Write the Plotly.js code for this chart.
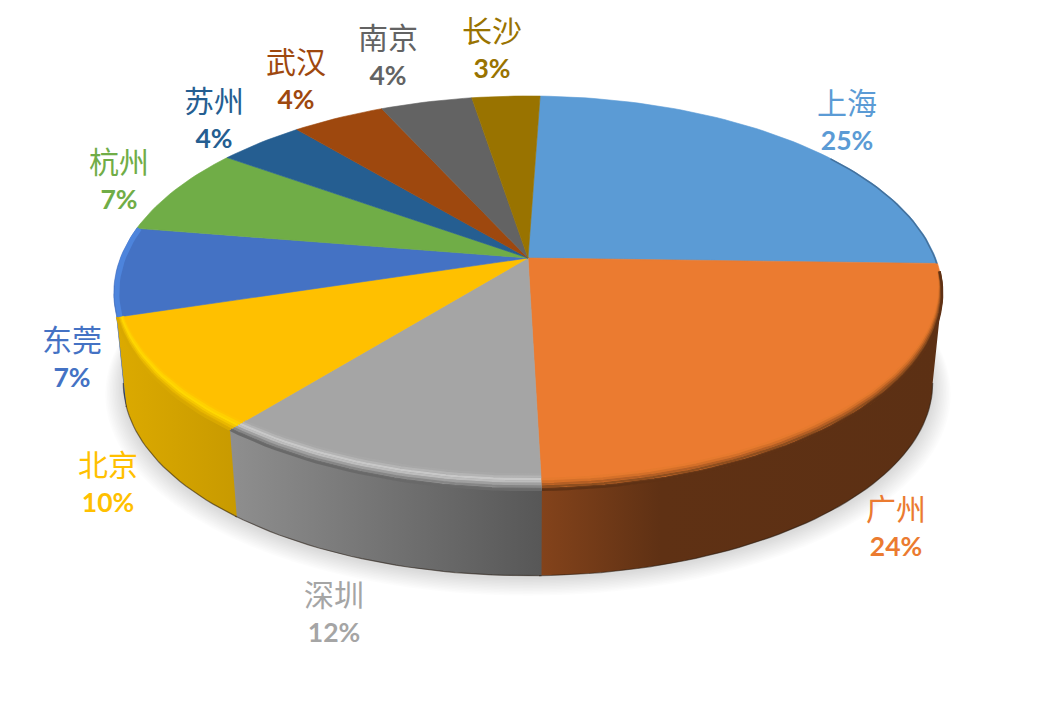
<!DOCTYPE html>
<html><head><meta charset="utf-8">
<script src="https://cdn.plot.ly/plotly-3.0.1.min.js"></script>
<style>html,body{margin:0;padding:0;background:#fff}#c{width:1056px;height:704px}</style>
</head><body><div id="c"></div>
<script>
// ---- data ----
const cities = ['上海','广州','深圳','北京','东莞','杭州','苏州','武汉','南京','长沙'];
const shares = [24.9,24.1,11.3,9.4,7.3,7.3,4.0,4.3,4.25,3.15];
const percentLabels = ['25%','24%','12%','10%','7%','7%','4%','4%','4%','3%'];
// ---- styles ----
const topColors = ['#5B9BD5','#EB7B30','#A5A5A5','#FFC000','#4472C4','#70AD47','#255E91','#9E480E','#636363','#997300'];
const wallScales = {
  1:[[0,'#84431b'],[0.3,'#5f3114'],[1,'#5c3014']],
  2:[[0,'#8f8f8f'],[1,'#575757']],
  3:[[0,'#dcaa00'],[1,'#c89a00']],
  4:[[0,'#3a62a8'],[1,'#2f5597']]
};
const frontBevels = {
  1:[[9,'#e67a2e'],[7,'#d47029'],[5,'#b55f24'],[3,'#8f4e1e'],[1,'#6c3a18'],[0,'#5f3114']],
  2:[[13,'#a8a8a8'],[11,'#b4b4b4'],[9,'#c8c8c8'],[7,'#bdbdbd'],[5,'#a0a0a0'],[3,'#868686'],[1,'#6e6e6e'],[0,'#696969']],
  3:[[11,'#ffc400'],[9,'#ffd000'],[7,'#ffd800'],[5,'#f6c800'],[3,'#e8b800'],[1,'#dcaa00'],[0,'#d8a800']]
};
// ---- label anchors (layout only) ----
const nameX = [847,896,334,108,72,119,214,296,388,492];
const nameY = [103,509,595,465,340,162,101,62,38,31];
const pctGap = 37, labelNudge = 3;
// ---- geometry of the tilted disc ----
const cx = 528, cy = 258, ax = 407.6, ay = 190.8, persp = -0.1777;
const startDeg = 2, depthCy = 349, depthScale = 0.977;
const tangentR = 100.2, tangentL = 259.8;
function project(deg, r, centreY, scale) {
  const t = deg * Math.PI / 180, X = Math.sin(t) * r, Y = -Math.cos(t) * r, d = 1 + persp * Y;
  return [cx + scale * ax * X / d, centreY + scale * ay * Y / d];
}
function arc(a0, a1, r, centreY, scale) {
  const n = Math.max(2, Math.ceil(Math.abs(a1 - a0) / 1.5)), xs = [], ys = [];
  for (let i = 0; i <= n; i++) {
    const a = a0 + (a1 - a0) * i / n;
    const p = project(a, typeof r === 'function' ? r(a) : r, centreY, scale);
    xs.push(p[0]); ys.push(p[1]);
  }
  return [xs, ys];
}
const total = shares.reduce((a, b) => a + b, 0);
let acc = startDeg;
const bounds = shares.map(v => { const s = acc; acc += v / total * 360; return [s, acc]; });
const traces = [];
const base = {type:'scatter', hoverinfo:'skip', showlegend:false, xaxis:'x', yaxis:'y'};
// soft shadow under the disc
for (let i = 12; i >= 1; i--) {
  const [x, y] = arc(0, 360, 1 + 0.0036 * i, depthCy + 2 + 0.5 * i, depthScale);
  traces.push({...base, x, y, mode:'none', fill:'toself', fillcolor:'rgba(0,0,0,0.013)', name:'shadow'});
}
// side walls (only the part facing the viewer)
bounds.forEach((b, i) => {
  if (!wallScales[i]) return;
  const a0 = Math.max(b[0], tangentR), a1 = Math.min(b[1] + 0.3, tangentL);
  const [tx, ty] = arc(a0, a1, 1, cy, 1);
  const [bx, by] = arc(a1, a0, 1, depthCy, depthScale);
  traces.push({...base, name:cities[i] + ' side', x:tx.concat(bx), y:ty.concat(by), mode:'none', fill:'toself',
    fillcolor:wallScales[i][0][1], fillgradient:{type:'horizontal', colorscale:wallScales[i]}});
  const [ex, ey] = arc(a0, a1, 1, depthCy, depthScale);
  traces.push({...base, name:cities[i] + ' edge', x:ex, y:ey, mode:'lines', line:{color:'rgba(40,30,20,0.55)', width:1.2}});
});
// top wedges
bounds.forEach((b, i) => {
  const [ax1, ay1] = arc(b[0], b[1], 1, cy, 1);
  traces.push({...base, name:cities[i], x:[cx].concat(ax1, [cx]), y:[cy].concat(ay1, [cy]), mode:'lines',
    line:{color:topColors[i], width:0.6}, fill:'toself', fillcolor:topColors[i]});
});
// bevel strips along the front rim
const facing = a => Math.max(0, -Math.cos(a * Math.PI / 180));
Object.keys(frontBevels).forEach(k => {
  const b = bounds[k];
  const a0 = k == 1 ? 94 : b[0];
  frontBevels[k].forEach(s => {
    const [x, y] = arc(a0, b[1], a => 1 - s[0] / 232 * facing(a), cy, 1);
    traces.push({...base, name:cities[k] + ' bevel', x, y, mode:'lines', line:{color:s[1], width:2.3}});
  });
});
// rim light on the left wedge and dark rim on the right wedge
{
  const [x, y] = arc(bounds[4][0], bounds[4][1], 0.993, cy, 1);
  traces.push({...base, name:cities[4] + ' rim', x, y, mode:'lines', line:{color:'#4d84dc', width:5}});
  const [x2, y2] = arc(55, bounds[0][1], 0.998, cy, 1);
  traces.push({...base, name:cities[0] + ' rim', x:x2, y:y2, mode:'lines', line:{color:'#44719c', width:1.5}});
}
// labels
traces.push({...base, name:'names', x:nameX, y:nameY.map(v => v + labelNudge), mode:'text', text:cities, textposition:'middle center',
  textfont:{family:'"Noto Sans CJK SC"', size:30, color:topColors}});
traces.push({...base, name:'percent', x:nameX, y:nameY.map(v => v + labelNudge + pctGap), mode:'text', text:percentLabels, textposition:'middle center',
  textfont:{family:'Lato', size:26.5, weight:700, color:topColors}});
Plotly.newPlot('c', traces, {
  width:1056, height:704, margin:{l:0,r:0,t:0,b:0}, paper_bgcolor:'#fff', plot_bgcolor:'#fff', showlegend:false,
  xaxis:{range:[0,1056], visible:false, fixedrange:true},
  yaxis:{range:[704,0], visible:false, fixedrange:true}
}, {displayModeBar:false, staticPlot:true});
</script></body></html>
